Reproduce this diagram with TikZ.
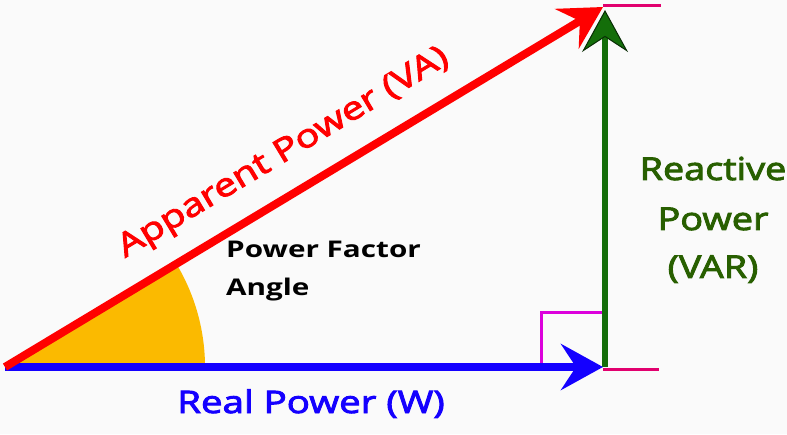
\documentclass[tikz,border=0pt]{standalone}
\usepackage{fontspec}
\setmainfont{Open Sans}
\newfontfamily\labf[FakeStretch=1.24,FakeBold=3]{Open Sans}
\newfontfamily\glabf[FakeStretch=1.2,FakeBold=3]{Open Sans}
\newfontfamily\pff[FakeStretch=1.29]{Open Sans}
\usetikzlibrary{arrows.meta}
\definecolor{bgc}{RGB}{250,250,250}
\definecolor{redv}{RGB}{255,0,0}
\definecolor{bluev}{RGB}{20,0,255}
\definecolor{greenv}{RGB}{20,110,10}
\definecolor{greentxt}{RGB}{40,95,0}
\definecolor{sector}{RGB}{251,186,0}
\definecolor{boxc}{RGB}{220,0,220}
\definecolor{tickc}{RGB}{225,0,110}
\tikzset{
  lab/.style={inner sep=0pt, font=\labf\fontsize{31}{36}\selectfont},
  glab/.style={inner sep=0pt, anchor=base, text=greentxt, font=\glabf\fontsize{31.5}{36}\selectfont},
  head/.style={-{Stealth[length=42pt,width=46pt,inset=15pt,#1]}},
}
\begin{document}
\begin{tikzpicture}[x=1pt,y=1pt]
\fill[bgc] (0,0) rectangle (787,434);
\useasboundingbox (0,0) rectangle (787,434);
\coordinate (O) at (5,67);
\coordinate (B) at (603,67);
\coordinate (T) at (603,427);
\coordinate (G0) at (605,67);
\coordinate (G1) at (605,424);
% sector
\fill[sector] (O) -- ++(200,0) arc[start angle=0,end angle=30.98,radius=200] -- cycle;
% right angle box
\coordinate (R1) at (541,67);
\coordinate (R2) at (541,121);
\coordinate (R3) at (603,121);
\draw[boxc, line width=3pt] (R1) -- (R2) -- (R3);
% tick lines
\coordinate (TT0) at (603,428);
\coordinate (TT) at (661,428);
\coordinate (TB0) at (603,65);
\coordinate (TB) at (659,65);
\draw[tickc, line width=3pt] (TT0) -- (TT);
\draw[tickc, line width=3pt] (TB0) -- (TB);
% vectors
\draw[greenv, line width=6pt, head={fill=greenv,color=black!60!greenv,line width=1pt}] (G0) -- (G1);
\draw[bluev, line width=8pt, head={}] (O) -- (B);
\draw[redv, line width=8pt, head={}] (O) -- (T);
% labels
\node[lab, text=redv, rotate=30.98, anchor=base west, font=\labf\fontsize{32}{36}\selectfont] (app) at (125,176) {Apparent Power (VA)};
\node[lab, text=bluev, anchor=base] (real) at (311,21) {Real Power (W)};
\node[glab] (reac1) at (713,254) {Reactive};
\node[glab] (reac2) at (713,204) {Power};
\node[glab] (reac3) at (713,156) {(VAR)};
\node[inner sep=0pt, anchor=base west, align=left, font=\pff\bfseries\fontsize{23}{38}\selectfont] (pfa) at (226,139) {Power Factor\\Angle};
\end{tikzpicture}
\end{document}
